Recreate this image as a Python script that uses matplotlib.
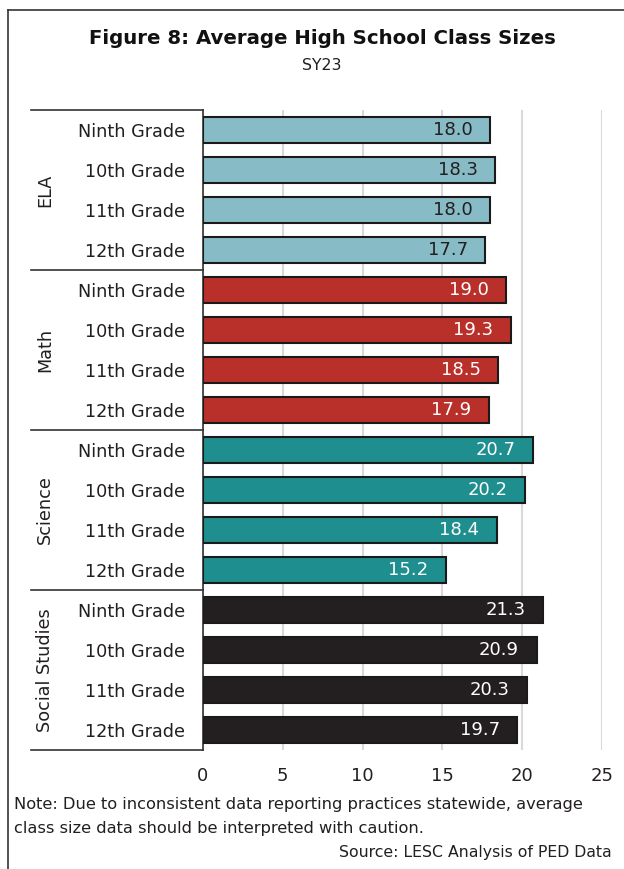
import matplotlib.pyplot as plt
from matplotlib.lines import Line2D

subjects = ["ELA", "Math", "Science", "Social Studies"]
grades = ["Ninth Grade", "10th Grade", "11th Grade", "12th Grade"]
ela = [18.0, 18.3, 18.0, 17.7]
math_ = [19.0, 19.3, 18.5, 17.9]
science = [20.7, 20.2, 18.4, 15.2]
social = [21.3, 20.9, 20.3, 19.7]
colors = ["#87BCC6", "#B9302A", "#1F8E8E", "#231F20"]
text_colors = ["#231F20", "white", "white", "white"]
xticks = [0, 5, 10, 15, 20, 25]

plt.rcParams['font.family'] = ['DejaVu Sans']

fig = plt.figure(figsize=(6.24, 8.69), dpi=100)
ax = fig.add_axes([203/624, 1-750/869, 399/624, 640/869])

groups = [ela, math_, science, social]
pos = 0
for g, vals in enumerate(groups):
    for v in vals:
        ax.barh(pos, v, height=0.65, color=colors[g], edgecolor="#1a1a1a", linewidth=1.5, zorder=3)
        ax.text(v - 2.35, pos, f"{v:.1f}", ha="center", va="center",
                fontsize=13, color=text_colors[g], zorder=4)
        pos += 1

ax.set_xlim(0, 25)
ax.set_ylim(15.5, -0.5)
ax.set_xticks(xticks)
ax.set_xticklabels([str(t) for t in xticks], fontsize=13, color="#231F20")
ax.tick_params(axis="x", length=0, pad=12)
ax.set_yticks(range(16))
ax.set_yticklabels(grades * 4, fontsize=12.7, color="#231F20")
ax.tick_params(axis="y", length=0, pad=13)
ax.grid(axis="x", color="#D9D9D9", linewidth=1.5, zorder=0)
for s in ["top", "right", "bottom"]:
    ax.spines[s].set_visible(False)
ax.spines["left"].set_color("#333333")
ax.spines["left"].set_linewidth(1.2)

# group separators and rotated subject labels
for i in range(5):
    y = 1 - (110 + 160*i)/869
    fig.add_artist(Line2D([31/624, 203/624], [y, y], color="#333333", lw=1.2))
for i, s in enumerate(subjects):
    fig.text(45/624, 1 - (190 + 160*i)/869, s, rotation=90, ha="center", va="center",
             fontsize=12.7, color="#231F20")

# frame lines
fig.add_artist(Line2D([8/624, 8/624], [0, 1-10/869], color="#333333", lw=1.2))
fig.add_artist(Line2D([8/624, 1], [1-10/869, 1-10/869], color="#333333", lw=1.2))

fig.text(0.516, 1-38/869, "Figure 8: Average High School Class Sizes", ha="center", va="center",
         fontsize=14.2, fontweight="bold", color="#111111")
fig.text(0.516, 1-66/869, "SY23", ha="center", va="center", fontsize=11.3, color="#231F20")

fig.text(14/624, 1-805/869, "Note: Due to inconsistent data reporting practices statewide, average",
         ha="left", va="center", fontsize=11.7, color="#231F20")
fig.text(14/624, 1-828/869, "class size data should be interpreted with caution.",
         ha="left", va="center", fontsize=11.7, color="#231F20")
fig.text(612/624, 1-852/869, "Source: LESC Analysis of PED Data",
         ha="right", va="center", fontsize=11.3, color="#231F20")

fig.savefig("out.png", dpi=100)
